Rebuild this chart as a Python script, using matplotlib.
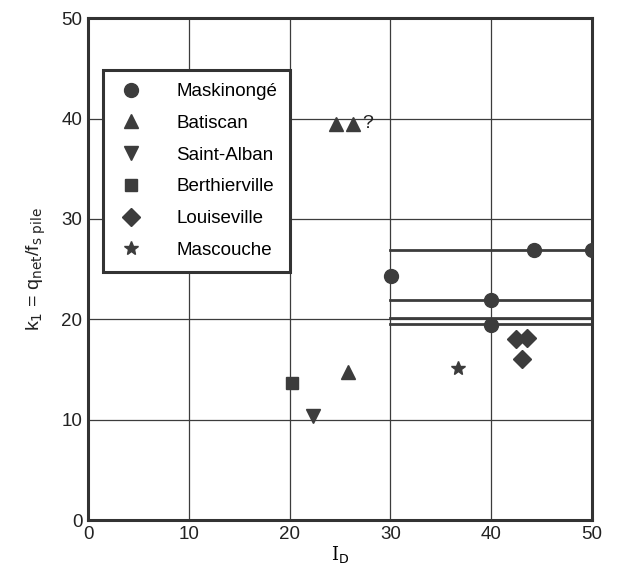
import matplotlib
matplotlib.use("Agg")
import matplotlib.pyplot as plt

plt.rcParams["font.family"] = ["Liberation Sans", "DejaVu Sans"]

# Données (I_D, k1)
mask_x = [30.1, 40.0, 40.0, 44.2, 50.0]
mask_y = [24.3, 21.9, 19.4, 26.9, 26.9]
bat_x = [24.6, 26.3, 25.8]
bat_y = [39.5, 39.5, 14.7]
stalban_x = [22.3]
stalban_y = [10.4]
berth_x = [20.2]
berth_y = [13.7]
louis_x = [42.4, 43.5, 43.0]
louis_y = [18.0, 18.1, 16.0]
masc_x = [36.7]
masc_y = [15.1]

# plages horizontales (I_D de 30 à 50)
plage_y = [26.9, 21.9, 20.1, 19.5]
plage_x0, plage_x1 = 30, 50

col = "#3c3c3c"

fig = plt.figure(figsize=(6.22, 5.70), dpi=100)
ax = fig.add_axes([0.1415, 0.0877, 0.8105, 0.8803])

ax.set_xlim(0, 50)
ax.set_ylim(0, 50)
ax.set_xticks(range(0, 51, 10))
ax.set_yticks(range(0, 51, 10))
ax.grid(True, color=col, lw=0.9)
ax.tick_params(length=0, labelsize=13.5, colors="#222222", pad=4)
for s in ax.spines.values():
    s.set_linewidth(2.2)
    s.set_color("#333333")

for yv in plage_y:
    ax.plot([plage_x0, plage_x1], [yv, yv], color=col, lw=2.0, zorder=2)

ms = 10
ax.plot(mask_x, mask_y, "o", color=col, ms=ms, label="Maskinongé", zorder=3)
ax.plot(bat_x, bat_y, "^", color=col, ms=ms, label="Batiscan", zorder=3)
ax.plot(stalban_x, stalban_y, "v", color=col, ms=ms, label="Saint-Alban", zorder=3)
ax.plot(berth_x, berth_y, "s", color=col, ms=ms - 1, label="Berthierville", zorder=3)
ax.plot(louis_x, louis_y, "D", color=col, ms=ms - 1, label="Louiseville", zorder=3)
ax.plot(masc_x, masc_y, "*", color=col, ms=ms, label="Mascouche", zorder=3)

ax.text(27.2, 39.5, "?", fontsize=14, color="#222222", va="center")

leg = ax.legend(loc="upper left", bbox_to_anchor=(0.03, 0.897), fontsize=13.5,
                frameon=True, fancybox=False, borderpad=0.7, labelspacing=0.78,
                handletextpad=1.6, handlelength=1.6, borderaxespad=0)
leg.get_frame().set_edgecolor("#333333")
leg.get_frame().set_linewidth(2.2)
leg.get_frame().set_alpha(1)

ax.set_xlabel("I$_\\mathrm{D}$", fontsize=13, family="DejaVu Serif", labelpad=1)
ax.set_ylabel("k$_\\mathrm{1}$ = q$_\\mathrm{net}$/f$_\\mathrm{s\\ pile}$",
              fontsize=14, color="#222222", labelpad=10)

fig.savefig("out.png", dpi=100)
